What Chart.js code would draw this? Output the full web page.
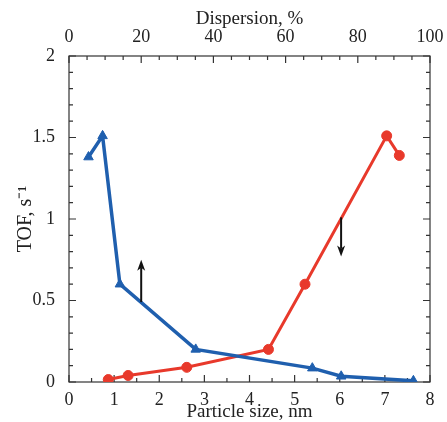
<!DOCTYPE html>
<html>
<head>
<meta charset="utf-8">
<script src="https://cdn.jsdelivr.net/npm/chart.js@4/dist/chart.umd.min.js"></script>
<style>
  html, body { margin: 0; padding: 0; background: #fff; }
  #wrap { width: 447px; height: 422px; }
</style>
</head>
<body>
<div id="wrap"><canvas id="myChart"></canvas></div>
<script>
// blue series is read against the top axis (dispersion), red against the bottom one (particle size)
const blueDispersion = [5.4, 9.3, 14.1, 35.1, 67.4, 75.4, 95.4]
const blueTof = [1.38, 1.51, 0.60, 0.20, 0.085, 0.035, 0.007]
const redSize = [0.87, 1.31, 2.61, 4.42, 5.23, 7.04, 7.32]
const redTof = [0.015, 0.04, 0.09, 0.20, 0.60, 1.51, 1.39]

// arrows, in particle size / TOF units
const arrowX = [1.6, 6.03]
const arrowFrom = [0.49, 1.01]
const arrowTo = [0.75, 0.77]

Chart.defaults.font.family = "'Liberation Serif', 'Times New Roman', serif"
Chart.defaults.color = '#222'

const frameTicks = {
    id: 'frameTicks',
    beforeDatasetsDraw(chart) {
        const c = chart.ctx
        const a = chart.chartArea
        const x = chart.scales.x, x2 = chart.scales.x2, y = chart.scales.y
        c.save()
        c.strokeStyle = '#333'
        c.lineWidth = 1.2
        c.strokeRect(a.left, a.top, a.right - a.left, a.bottom - a.top)
        c.beginPath()
        for (let v = 0; v <= 8.001; v += 0.5) {
            const px = x.getPixelForValue(v)
            const len = Math.abs(v - Math.round(v)) < 0.01 ? 7 : 4
            c.moveTo(px, a.bottom); c.lineTo(px, a.bottom - len)
        }
        for (let v = 0; v <= 100.001; v += 5) {
            const px = x2.getPixelForValue(v)
            const len = v % 20 === 0 ? 7 : 4
            c.moveTo(px, a.top); c.lineTo(px, a.top + len)
        }
        for (let i = 0; i <= 20; i++) {
            const py = y.getPixelForValue(i / 10)
            const len = i % 5 === 0 ? 7 : 4
            c.moveTo(a.left, py); c.lineTo(a.left + len, py)
            c.moveTo(a.right, py); c.lineTo(a.right - len, py)
        }
        c.stroke()
        c.restore()
    },
    afterDatasetsDraw(chart) {
        const c = chart.ctx
        const x = chart.scales.x, y = chart.scales.y
        c.save()
        c.strokeStyle = '#111'
        c.fillStyle = '#111'
        c.lineWidth = 2
        arrowX.forEach((v, i) => {
            const px = x.getPixelForValue(v)
            const y0 = y.getPixelForValue(arrowFrom[i])
            const y1 = y.getPixelForValue(arrowTo[i])
            const dir = y1 < y0 ? 1 : -1
            c.beginPath()
            c.moveTo(px, y0); c.lineTo(px, y1 + dir * 8)
            c.stroke()
            c.beginPath()
            c.moveTo(px, y1)
            c.lineTo(px - 4, y1 + dir * 11)
            c.lineTo(px, y1 + dir * 8)
            c.lineTo(px + 4, y1 + dir * 11)
            c.closePath()
            c.fill()
        })
        c.restore()
    }
}

const ctx = document.getElementById('myChart')

new Chart(ctx, {
    type: 'scatter',
    data: {
        datasets: [{
            label: 'Dispersion',
            data: blueDispersion.map((d, i) => ({ x: d, y: blueTof[i] })),
            xAxisID: 'x2',
            showLine: true,
            borderColor: '#1f5fae',
            backgroundColor: '#1f5fae',
            borderWidth: 3.5,
            pointStyle: 'triangle',
            pointRadius: 5.5,
            pointBorderWidth: 1,
            pointHoverRadius: 5.5
        }, {
            label: 'Particle size',
            data: redSize.map((d, i) => ({ x: d, y: redTof[i] })),
            xAxisID: 'x',
            showLine: true,
            borderColor: '#e8392b',
            backgroundColor: '#e8392b',
            borderWidth: 3,
            pointStyle: 'circle',
            pointRadius: 5,
            pointBorderWidth: 1,
            pointHoverRadius: 5
        }]
    },
    options: {
        responsive: true,
        maintainAspectRatio: false,
        animation: false,
        layout: { padding: { right: 17, top: 0, left: 0, bottom: 0 } },
        plugins: { legend: { display: false }, tooltip: { enabled: false } },
        scales: {
            x: {
                type: 'linear', position: 'bottom', min: 0, max: 8,
                grid: { display: false },
                border: { display: false },
                ticks: { stepSize: 1, padding: 1, font: { size: 18, lineHeight: 1 } },
                title: { display: true, text: 'Particle size, nm', font: { size: 19, lineHeight: 1 }, padding: { top: 0, bottom: 0 } },
                afterFit(scale) { scale.height = 40 }
            },
            x2: {
                type: 'linear', position: 'top', min: 0, max: 100,
                grid: { display: false },
                border: { display: false },
                ticks: { stepSize: 20, padding: 2, font: { size: 18, lineHeight: 1 } },
                title: { display: true, text: 'Dispersion, %', font: { size: 19, lineHeight: 1 }, padding: { top: 10, bottom: 6 } },
                afterFit(scale) { scale.height = 56 }
            },
            y: {
                type: 'linear', min: 0, max: 2,
                grid: { display: false },
                border: { display: false },
                ticks: { stepSize: 0.5, padding: 6, font: { size: 18 }, callback: v => String(v) },
                title: { display: true, text: 'TOF, s⁻¹', font: { size: 20, lineHeight: 1 }, padding: { top: 16, bottom: 0 } },
                afterFit(scale) { scale.width = 69 }
            }
        }
    },
    plugins: [frameTicks]
})
</script>
</body>
</html>
